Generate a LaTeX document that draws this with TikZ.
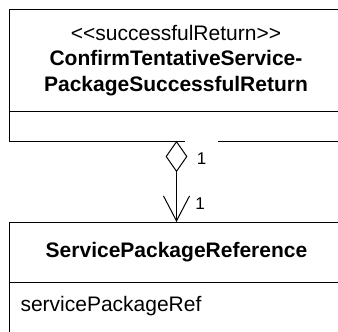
\documentclass[tikz,border=0pt]{standalone}
\usepackage{fontspec}
\setmainfont{Liberation Sans}
\usetikzlibrary{shapes.geometric,arrows.meta}
\begin{document}
\begin{tikzpicture}[x=1pt,y=-1pt,
  line width=1pt,
  umltext/.style={inner sep=0pt,font=\fontsize{21}{25.5}\selectfont},
  multlabel/.style={inner sep=0pt,font=\fontsize{17}{19}\selectfont}]
\useasboundingbox (0,0) rectangle (338,332);
% top class
\draw (343,9) -- (9,9) -- (9,141) -- (343,141);
\draw (9,111) -- (343,111);
\node[umltext,align=center,anchor=base] (stereo) at (176,40) {<\kern0pt<successfulReturn>\kern0pt>};
\node[umltext,align=center,anchor=base] (name1) at (176,65.5) {\bfseries ConfirmTentativeService-};
\node[umltext,align=center,anchor=base] (name2) at (176,91) {\bfseries PackageSuccessfulReturn};
\coordinate (topc) at (176.5,141);
% bottom class
\draw (343,222) -- (9,222) -- (9,340);
\draw (9,282) -- (343,282);
\node[umltext,anchor=base] (name3) at (176.5,257) {\bfseries ServicePackageReference};
\node[umltext,anchor=base west] (attr) at (20,311) {servicePackageRef};
\coordinate (botc) at (176.5,222);
% label box covering gap
\node[multlabel,fill=white,minimum width=33pt,minimum height=36pt,anchor=north] (m1) at (201.5,140.3) {1};
\node[multlabel] (m2) at (200,204) {1};
% association
\node[diamond,draw,fill=white,inner sep=0pt,minimum width=21pt,minimum height=30pt,anchor=north,line width=1pt] (dia) at (topc) {};
\draw[-{Straight Barb[length=25pt,width=26pt,angle'=55]}] (dia.south) -- (botc);
\end{tikzpicture}
\end{document}
